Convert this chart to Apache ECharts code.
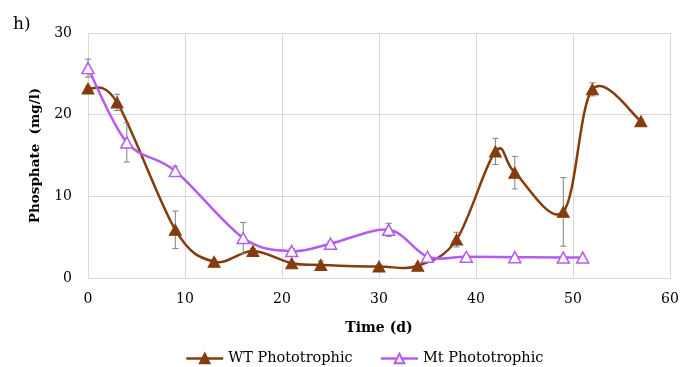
<!DOCTYPE html>
<html>
<head>
<meta charset="utf-8">
<script src="https://cdn.jsdelivr.net/npm/echarts@6/dist/echarts.min.js"></script>
<style>
  html, body { margin: 0; padding: 0; background: #ffffff; }
  #chart { width: 697px; height: 367px; }
</style>
</head>
<body>
<div id="chart"></div>
<script>
// Phosphate concentration over time (days)
const wtDays  = [0, 3, 9, 13, 17, 21, 24, 30, 34, 38, 42, 44, 49, 52, 57];
const wtValue = [23.2, 21.5, 5.9, 2.0, 3.3, 1.8, 1.6, 1.4, 1.5, 4.7, 15.5, 12.9, 8.1, 23.1, 19.2];
const wtError = [0.3, 1.0, 2.3, 0.2, 0.3, 0.2, 0.5, 0.2, 0.2, 0.9, 1.6, 2.0, 4.2, 0.8, 0.2];

const mtDays  = [0, 4, 9, 16, 21, 25, 31, 35, 39, 44, 49, 51];
const mtValue = [25.7, 16.6, 13.1, 4.9, 3.3, 4.2, 5.9, 2.6, 2.6, 2.55, 2.5, 2.5];
const mtError = [1.1, 2.4, 0.6, 1.9, 0.3, 0.3, 0.8, 0.2, 0.2, 0.1, 0.1, 0.1];

const xTicks = [0, 10, 20, 30, 40, 50, 60];
const yTicks = [0, 10, 20, 30];

const WT_COLOR = '#843c0c';
const MT_COLOR = '#b45cf2';
const SERIF = '"DejaVu Serif", "Liberation Serif", serif';

function pairs(xs, ys) { return xs.map((x, i) => [x, ys[i]]); }
function bars(xs, ys, es) { return xs.map((x, i) => [x, ys[i] - es[i], ys[i] + es[i]]); }

// Vertical error bar with short caps at both ends
function errorBarRender(params, api) {
  const x = api.value(0);
  const lo = api.coord([x, api.value(1)]);
  const hi = api.coord([x, api.value(2)]);
  const cap = 3;
  const style = { stroke: '#7f7f7f', lineWidth: 1, fill: null };
  return {
    type: 'group',
    children: [
      { type: 'line', shape: { x1: lo[0], y1: lo[1], x2: hi[0], y2: hi[1] }, style },
      { type: 'line', shape: { x1: lo[0] - cap, y1: lo[1], x2: lo[0] + cap, y2: lo[1] }, style },
      { type: 'line', shape: { x1: hi[0] - cap, y1: hi[1], x2: hi[0] + cap, y2: hi[1] }, style }
    ]
  };
}

// Smoothed connecting curve: one cubic Bezier per segment, tangents from neighbours
function curveRender(xs, ys, color) {
  return function (params, api) {
    const i = params.dataIndex;
    const n = xs.length;
    const p = (k) => api.coord([xs[Math.max(0, Math.min(n - 1, k))], ys[Math.max(0, Math.min(n - 1, k))]]);
    const p0 = p(i - 1), p1 = p(i), p2 = p(i + 1), p3 = p(i + 2);
    const t = 1 / 6;
    return {
      type: 'bezierCurve',
      shape: {
        x1: p1[0], y1: p1[1], x2: p2[0], y2: p2[1],
        cpx1: p1[0] + (p2[0] - p0[0]) * t, cpy1: p1[1] + (p2[1] - p0[1]) * t,
        cpx2: p2[0] - (p3[0] - p1[0]) * t, cpy2: p2[1] - (p3[1] - p1[1]) * t
      },
      style: { stroke: color, lineWidth: 2.5, fill: null, lineCap: 'round' }
    };
  };
}

const chart = echarts.init(document.getElementById('chart'), null, { renderer: 'canvas' });

chart.setOption({
  backgroundColor: '#ffffff',
  animation: false,
  textStyle: { fontFamily: SERIF },
  graphic: [{
    type: 'text', left: 13, top: 16,
    style: { text: 'h)', font: '17px ' + SERIF, fill: '#000' }
  }],
  grid: { left: 88, right: 27, top: 33, bottom: 89 },
  legend: {
    left: 180, top: 346,
    itemWidth: 37, itemHeight: 12, itemGap: 27,
    lineStyle: { width: 2.5, opacity: 1 },
    textStyle: { fontFamily: SERIF, fontSize: 14.5, color: '#000' },
    data: ['WT Phototrophic', 'Mt Phototrophic']
  },
  xAxis: {
    type: 'value', min: xTicks[0], max: xTicks[xTicks.length - 1], interval: 10,
    name: 'Time (d)', nameLocation: 'middle', nameGap: 43,
    nameTextStyle: { fontFamily: SERIF, fontWeight: 'bold', fontSize: 14, color: '#000' },
    axisLine: { show: true, lineStyle: { color: '#d9d9d9' } },
    axisTick: { show: false },
    axisLabel: { fontFamily: SERIF, fontSize: 14, color: '#000', margin: 14 },
    splitLine: { show: true, lineStyle: { color: '#d9d9d9' } }
  },
  yAxis: {
    type: 'value', min: yTicks[0], max: yTicks[yTicks.length - 1], interval: 10,
    name: 'Phosphate  (mg/l)', nameLocation: 'middle', nameGap: 46, nameRotate: 90,
    nameTextStyle: { fontFamily: SERIF, fontWeight: 'bold', fontSize: 13.5, color: '#000' },
    axisLine: { show: false },
    axisTick: { show: false },
    axisLabel: { fontFamily: SERIF, fontSize: 14, color: '#000', margin: 16 },
    splitLine: { show: true, lineStyle: { color: '#d9d9d9' } }
  },
  series: [
    {
      type: 'custom', renderItem: curveRender(wtDays, wtValue, WT_COLOR),
      data: pairs(wtDays.slice(0, -1), wtValue.slice(0, -1)),
      encode: { x: 0, y: 1 }, silent: true, z: 2
    },
    {
      type: 'custom', renderItem: curveRender(mtDays, mtValue, MT_COLOR),
      data: pairs(mtDays.slice(0, -1), mtValue.slice(0, -1)),
      encode: { x: 0, y: 1 }, silent: true, z: 3
    },
    {
      type: 'custom', renderItem: errorBarRender, data: bars(wtDays, wtValue, wtError),
      encode: { x: 0, y: [1, 2] }, silent: true, z: 4
    },
    {
      type: 'custom', renderItem: errorBarRender, data: bars(mtDays, mtValue, mtError),
      encode: { x: 0, y: [1, 2] }, silent: true, z: 4
    },
    {
      name: 'WT Phototrophic', type: 'line', data: pairs(wtDays, wtValue),
      symbol: 'triangle', symbolSize: [12, 11],
      lineStyle: { color: WT_COLOR, width: 0, opacity: 0 },
      itemStyle: { color: WT_COLOR, borderColor: WT_COLOR, borderWidth: 1 },
      z: 5
    },
    {
      name: 'Mt Phototrophic', type: 'line', data: pairs(mtDays, mtValue),
      symbol: 'triangle', symbolSize: [12, 11],
      lineStyle: { color: MT_COLOR, width: 0, opacity: 0 },
      itemStyle: { color: '#ffffff', borderColor: MT_COLOR, borderWidth: 1.5 },
      z: 6
    }
  ]
});
</script>
</body>
</html>
